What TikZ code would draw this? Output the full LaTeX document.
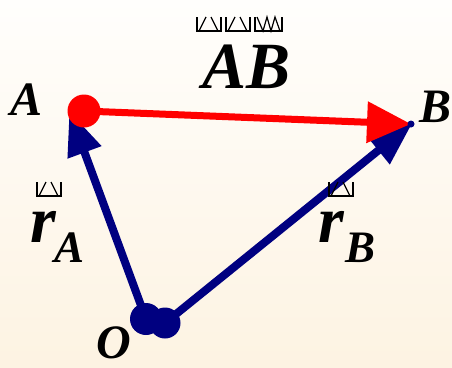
\documentclass[tikz,border=0pt]{standalone}
\usepackage{fontspec}
\setmainfont{Liberation Serif}[BoldItalicFont={Liberation Serif Bold Italic}]
\usetikzlibrary{arrows.meta}
\tikzset{
  lab/.style={inner sep=0pt, anchor=base west, font=\fontsize{48}{48}\selectfont\bfseries\itshape},
  biglab/.style={inner sep=0pt, anchor=base west, font=\fontsize{66}{66}\selectfont\bfseries\itshape},
  sublab/.style={inner sep=0pt, anchor=base west, font=\fontsize{45}{45}\selectfont\bfseries\itshape},
  bluevec/.style={draw={rgb,255:red,0;green,0;blue,128}, line width=8pt,
     -{Triangle[length=44pt,width=34pt]}, shorten >=-2pt},
  redvec/.style={draw=red, line width=7pt, -{Triangle[length=44pt,width=40pt]}},
  dot/.style={circle, inner sep=0pt, minimum size=#1, fill={rgb,255:red,0;green,0;blue,128}},
  reddot/.style={circle, inner sep=0pt, minimum size=33pt, fill=red},
  tofu/.style={line width=1.2pt, draw=black},
}
\newcommand\tofuA[2]{%
  \draw[tofu] (#1,#2) -- ++(0,14) -- ++(24,0) -- ++(0,-14);
  \draw[tofu] (#1+2,#2+14) -- (#1+9,#2);
  \draw[tofu] (#1+14,#2) -- (#1+21,#2+14);}
\newcommand\tofuW[2]{%
  \draw[tofu] (#1,#2) -- ++(0,14) -- ++(27,0) -- ++(0,-14);
  \draw[tofu] (#1+2,#2) -- (#1+8,#2+14) -- (#1+12,#2) -- (#1+16,#2+14) -- (#1+20,#2) -- (#1+25,#2+14);}
\begin{document}
\begin{tikzpicture}[x=1pt,y=-1pt]
\shade[top color={rgb,255:red,255;green,254;blue,252}, bottom color={rgb,255:red,253;green,243;blue,226}] (0,0) rectangle (452,367);
\useasboundingbox (0,0) rectangle (452,367);
% points
\coordinate (Atip) at (70,113);
\coordinate (Btip) at (411,124);
\coordinate (Ostart1) at (146,319);
\coordinate (Ostart2) at (165,323);
% blue vectors
\draw[bluevec] (Ostart1) -- (Atip);
\draw[bluevec] (Ostart2) -- (Btip);
% red vector
\node[reddot] (Adot) at (84,111) {};
\draw[redvec] (Adot.center) -- (Btip);
\node[dot=7pt] (Bdot) at (Btip) {};
\node[dot=32pt] (O1) at (146,319) {};
\node[dot=31pt] (O2) at (165,323) {};
% labels
\node[lab] (A) at (10,115) {A};
\node[lab] (B) at (419,122) {B};
\node[lab] (O) at (96,358) {O};
\node[biglab] (AB) at (202,88) {AB};
\node[biglab] (rA) at (30,242) {r};
\node[sublab] (rAs) at (54,262) {A};
\node[biglab] (rB) at (318,242) {r};
\node[sublab] (rBs) at (345,262) {B};
% missing-glyph boxes
\tofuA{197}{17}
\tofuA{226}{17}
\tofuW{255}{17}
\tofuA{37}{182}
\tofuA{329}{182}
\end{tikzpicture}
\end{document}
